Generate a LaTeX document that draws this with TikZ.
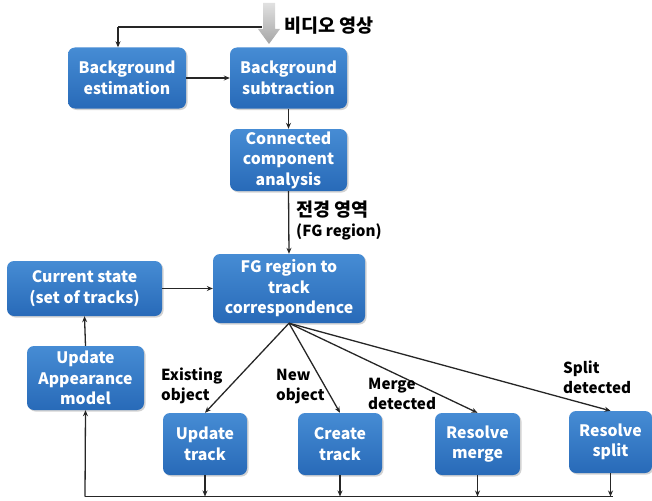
\documentclass[tikz,border=0pt]{standalone}
\usepackage{fontspec}
\setmainfont{Noto Sans CJK KR}
\usetikzlibrary{arrows.meta,shadows}
\definecolor{boxtop}{RGB}{70,140,212}
\definecolor{boxbot}{RGB}{40,106,184}
\tikzset{
  box/.style={rounded corners=7pt, top color=boxtop, bottom color=boxbot, draw=none,
    text=white, font=\fontsize{15.8}{20.5}\selectfont\bfseries, align=center, inner sep=0pt,
    drop shadow={shadow xshift=1.5pt, shadow yshift=-1.5pt, fill=black!35, opacity=0.5}},
  lab/.style={font=\fontsize{15.2}{19.5}\selectfont\bfseries, align=left, inner sep=0pt, text=black},
  conn/.style={line width=1.3pt, draw=black!85, -{Stealth[length=6pt,width=5pt]}},
  plain/.style={line width=1.3pt, draw=black!85}
}
\newcommand{\krbig}{\fontsize{18.5}{20}\selectfont}
\begin{document}
\begin{tikzpicture}[x=1pt,y=-1pt]
\useasboundingbox (0,0) rectangle (652,500);
% boxes
\node[box, minimum width=118pt, minimum height=61pt] (be) at (127,78) {Background\\estimation};
\node[box, minimum width=117pt, minimum height=61pt] (bs) at (288.5,78) {Background\\subtraction};
\node[box, minimum width=117pt, minimum height=62pt] (cca) at (288.5,160) {Connected\\component\\analysis};
\node[box, minimum width=152pt, minimum height=69pt] (fg) at (289,288.5) {FG region to\\track\\correspondence};
\node[box, minimum width=155pt, minimum height=55pt] (cs) at (84.5,288.5) {Current state\\(set of tracks)};
\node[box, minimum width=117pt, minimum height=64pt] (ua) at (85.5,378) {Update\\Appearance\\model};
\node[box, minimum width=84pt, minimum height=62pt] (ut) at (205,444) {Update\\track};
\node[box, minimum width=84pt, minimum height=62pt] (ct) at (340,444) {Create\\track};
\node[box, minimum width=85pt, minimum height=62pt] (rm) at (477.5,444) {Resolve\\merge};
\node[box, minimum width=83pt, minimum height=62pt] (rs) at (610.5,442) {Resolve\\split};
% video input block arrow
\shade[top color=black!12, bottom color=black!35, draw=none]
  (263,3) -- (275,3) -- (275,29) -- (280,29) -- (269,44) -- (258,29) -- (263,29) -- cycle;
\node[font=\krbig\bfseries, anchor=west, inner sep=0pt] (vid) at (284,26) {비디오 영상};
\coordinate (vin) at (262,27);
\coordinate (vbend) at (118,27);
\draw[plain] (vin) -- (vbend);
\draw[conn] (vbend) -- (vbend |- be.north);
\draw[conn] (be.east) -- (bs.west);
\draw[conn] (bs.south) -- (cca.north);
\draw[conn] (cca.south) -- (fg.north);
\node[lab, anchor=north west] (fglab) at (296,201) {{\krbig 전경 영역}\\(FG region)};
\draw[conn] (cs.east) -- (fg.west);
\draw[conn] (ua.north) -- (cs.south);
% fan out
\draw[conn] (fg.south) -- (ut.north);
\draw[conn] (fg.south) -- (ct.north);
\draw[conn] (fg.south) -- (rm.north);
\draw[conn] (fg.south) -- (rs.north);
\node[lab, anchor=north west] (l1) at (161,368) {Existing\\object};
\node[lab, anchor=north west] (l2) at (276,369) {New\\object};
\node[lab, anchor=north west] (l3) at (368,378) {Merge\\detected};
\node[lab, anchor=north west] (l4) at (563,361) {Split\\detected};
% bottom feedback
\coordinate (bl) at (85,496.5);
\coordinate (br) at (613,496.5);
\draw[plain] (bl) -- (br);
\draw[conn] (ut.south) -- (ut.south |- bl);
\draw[conn] (ct.south) -- (ct.south |- bl);
\draw[conn] (rm.south) -- (rm.south |- bl);
\draw[conn] (rs.south) -- (rs.south |- bl);
\draw[conn] (bl) -- (ua.south);
\end{tikzpicture}
\end{document}
